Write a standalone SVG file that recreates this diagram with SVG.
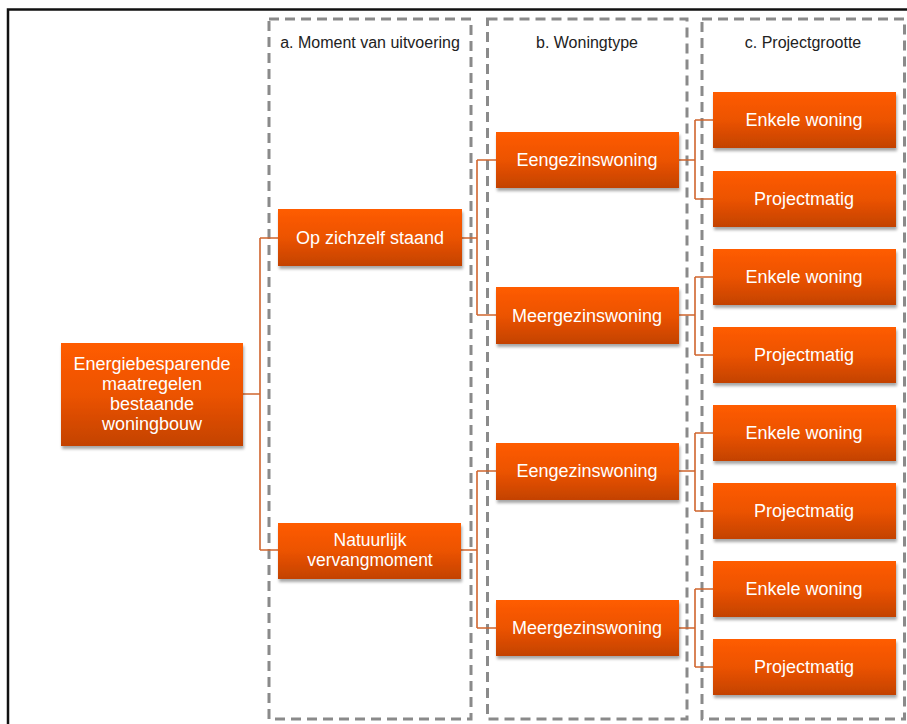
<svg xmlns="http://www.w3.org/2000/svg" width="907" height="724" viewBox="0 0 907 724">
<style>
.col{fill:none;stroke:#8a8a8a;stroke-width:3;stroke-dasharray:10 6}
.title{font-family:"Liberation Sans",Arial,sans-serif;font-size:16px;fill:#222;text-anchor:middle}
.box{fill:url(#g);filter:url(#sh)}
.lbl{font-family:"Liberation Sans",Arial,sans-serif;font-size:18px;fill:#fff;text-anchor:middle}
.con{fill:none;stroke:#d0652e;stroke-width:1.6}
</style>
<defs>
<linearGradient id="g" x1="0" y1="0" x2="0" y2="1">
<stop offset="0" stop-color="#ff5c00"/>
<stop offset="0.5" stop-color="#ec5300"/>
<stop offset="1" stop-color="#c34200"/>
</linearGradient>
<filter id="sh" x="-10%" y="-10%" width="125%" height="140%">
<feGaussianBlur in="SourceAlpha" stdDeviation="1.5"/>
<feOffset dx="1" dy="2.5" result="b"/>
<feComponentTransfer><feFuncA type="linear" slope="0.35"/></feComponentTransfer>
<feMerge><feMergeNode/><feMergeNode in="SourceGraphic"/></feMerge>
</filter>
</defs>
<rect width="907" height="724" fill="#fff"/>
<path d="M8,724 V9.5 H907" fill="none" stroke="#111" stroke-width="2.5"/>
<g id="columns">
<rect class="col" x="269" y="19" width="202" height="700"/>
<rect class="col" x="487.5" y="19" width="199.5" height="700"/>
<rect class="col" x="702" y="19" width="202.5" height="700"/>
<text class="title" x="370" y="48">a. Moment van uitvoering</text>
<text class="title" x="587" y="48">b. Woningtype</text>
<text class="title" x="803" y="48">c. Projectgrootte</text>
</g>
<g id="connectors">
<path class="con" d="M243,394 H260 M260,238 V550 M260,238 H278 M260,550 H278"/>
<path class="con" d="M462,238 H477 M477,160 V315 M477,160 H496 M477,315 H496"/>
<path class="con" d="M461,550 H477 M477,471 V628 M477,471 H496 M477,628 H496"/>
<path class="con" d="M679,160 H695 M695,120 V199 M695,120 H713 M695,199 H713"/>
<path class="con" d="M679,315 H695 M695,277 V355 M695,277 H713 M695,355 H713"/>
<path class="con" d="M679,471 H695 M695,433 V511 M695,433 H713 M695,511 H713"/>
<path class="con" d="M679,628 H695 M695,589 V667 M695,589 H713 M695,667 H713"/>
</g>
<g id="root">
<rect class="box" x="61" y="343" width="182" height="103"/>
<text class="lbl" x="152" y="370">Energiebesparende</text>
<text class="lbl" x="152" y="390">maatregelen</text>
<text class="lbl" x="152" y="410">bestaande</text>
<text class="lbl" x="152" y="430">woningbouw</text>
</g>
<g id="a1"><rect class="box" x="278" y="209" width="184" height="57"/><text class="lbl" x="370" y="244">Op zichzelf staand</text></g>
<g id="a2"><rect class="box" x="278" y="523" width="183" height="56"/><text class="lbl" x="370" y="546" style="font-size:17.5px">Natuurlijk</text><text class="lbl" x="370" y="566" style="font-size:17.5px">vervangmoment</text></g>
<g id="b1"><rect class="box" x="496" y="132" width="183" height="56"/><text class="lbl" x="587" y="166">Eengezinswoning</text></g>
<g id="b2"><rect class="box" x="496" y="287" width="183" height="57"/><text class="lbl" x="587" y="322">Meergezinswoning</text></g>
<g id="b3"><rect class="box" x="496" y="443" width="183" height="57"/><text class="lbl" x="587" y="477">Eengezinswoning</text></g>
<g id="b4"><rect class="box" x="496" y="600" width="183" height="56"/><text class="lbl" x="587" y="634">Meergezinswoning</text></g>
<g id="c1"><rect class="box" x="713" y="92" width="183" height="56"/><text class="lbl" x="804" y="126">Enkele woning</text></g>
<g id="c2"><rect class="box" x="713" y="171" width="183" height="56"/><text class="lbl" x="804" y="205">Projectmatig</text></g>
<g id="c3"><rect class="box" x="713" y="249" width="183" height="56"/><text class="lbl" x="804" y="283">Enkele woning</text></g>
<g id="c4"><rect class="box" x="713" y="327" width="183" height="56"/><text class="lbl" x="804" y="361">Projectmatig</text></g>
<g id="c5"><rect class="box" x="713" y="405" width="183" height="56"/><text class="lbl" x="804" y="439">Enkele woning</text></g>
<g id="c6"><rect class="box" x="713" y="483" width="183" height="56"/><text class="lbl" x="804" y="517">Projectmatig</text></g>
<g id="c7"><rect class="box" x="713" y="561" width="183" height="56"/><text class="lbl" x="804" y="595">Enkele woning</text></g>
<g id="c8"><rect class="box" x="713" y="639" width="183" height="56"/><text class="lbl" x="804" y="673">Projectmatig</text></g>
</svg>
